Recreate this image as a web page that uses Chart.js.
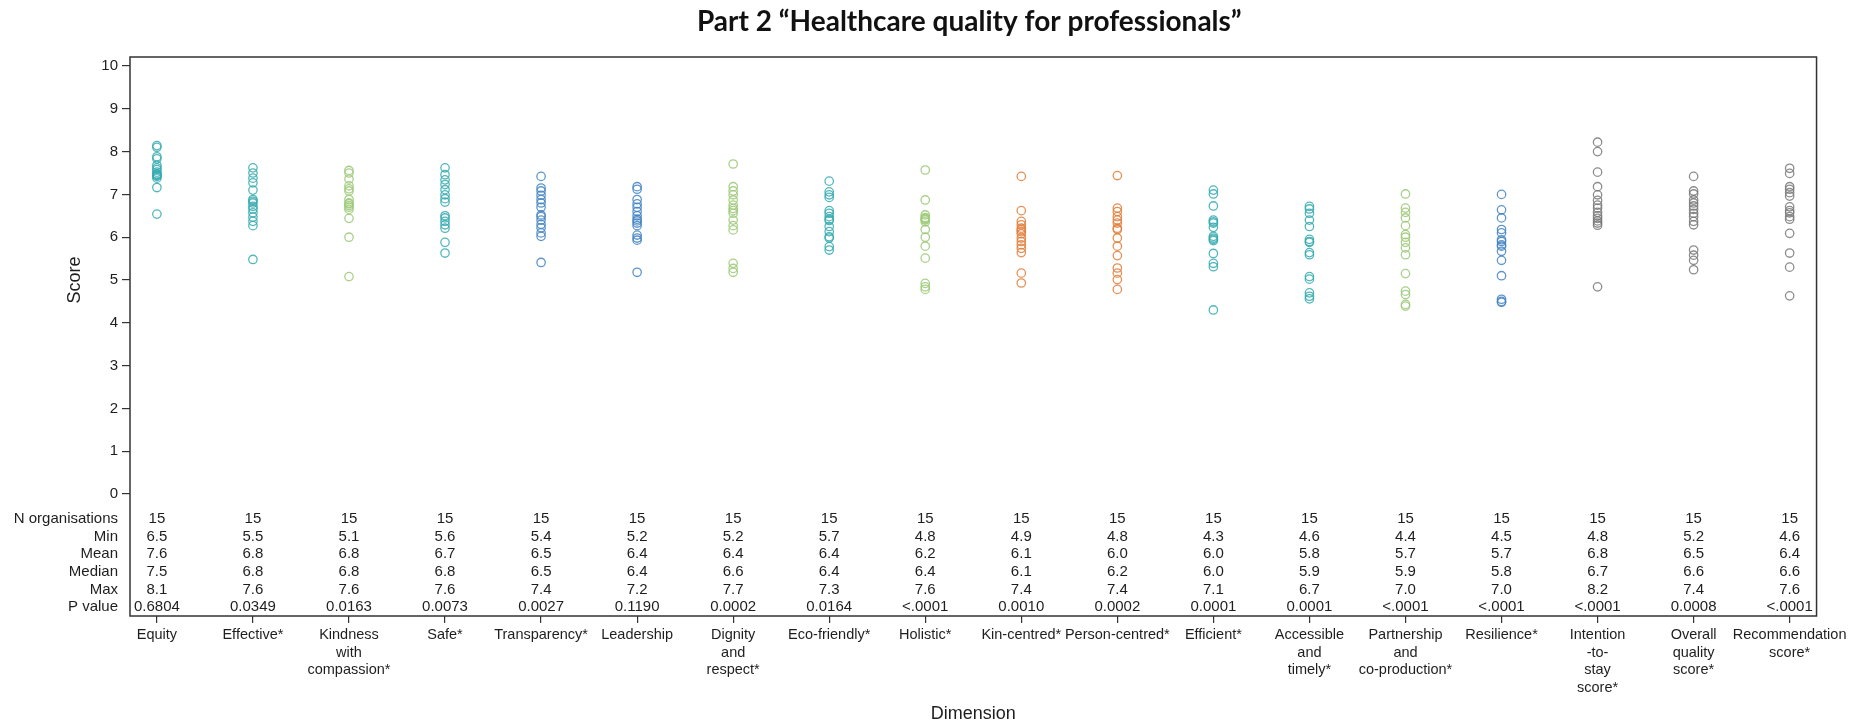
<!DOCTYPE html>
<html>
<head>
<meta charset="utf-8">
<title>Healthcare quality for professionals</title>
<script src="https://cdn.jsdelivr.net/npm/chart.js@4.4.0/dist/chart.umd.min.js"></script>
<style>
  body { margin: 0; background: #fff; }
  #wrap { width: 1850px; height: 723px; position: relative; }
</style>
</head>
<body>
<div id="wrap"><canvas id="chart"></canvas></div>
<script>
// **Data

// x axis labels, one column per dimension
let dimensionLabels = [
  'Equity', 'Effective*', ['Kindness', 'with', 'compassion*'], 'Safe*', 'Transparency*',
  'Leadership', ['Dignity', 'and', 'respect*'], 'Eco-friendly*', 'Holistic*', 'Kin-centred*',
  'Person-centred*', 'Efficient*', ['Accessible', 'and', 'timely*'],
  ['Partnership', 'and', 'co-production*'], 'Resilience*', ['Intention', '-to-', 'stay', 'score*'],
  ['Overall', 'quality', 'score*'], ['Recommendation', 'score*']
];

// organisation scores per dimension (15 organisations each)
let equity = [8.14, 8.1, 7.88, 7.83, 7.68, 7.62, 7.58, 7.52, 7.48, 7.46, 7.44, 7.42, 7.38, 7.16, 6.54];
let effective = [7.62, 7.5, 7.38, 7.27, 7.1, 6.88, 6.84, 6.8, 6.72, 6.66, 6.57, 6.47, 6.37, 6.27, 5.48];
let kindness = [7.56, 7.5, 7.36, 7.2, 7.13, 7.08, 6.88, 6.8, 6.78, 6.74, 6.7, 6.65, 6.44, 6.0, 5.08];
let safe = [7.62, 7.46, 7.34, 7.23, 7.11, 6.99, 6.9, 6.82, 6.5, 6.45, 6.37, 6.29, 6.21, 5.88, 5.63];
let transparency = [7.42, 7.15, 7.08, 6.98, 6.88, 6.8, 6.7, 6.52, 6.48, 6.4, 6.3, 6.22, 6.1, 6.02, 5.41];
let leadership = [7.18, 7.12, 6.88, 6.78, 6.7, 6.6, 6.5, 6.42, 6.38, 6.33, 6.27, 6.05, 5.98, 5.93, 5.18];
let dignity = [7.71, 7.18, 7.08, 6.99, 6.87, 6.75, 6.67, 6.62, 6.56, 6.4, 6.27, 6.17, 5.39, 5.27, 5.18];
let ecoFriendly = [7.31, 7.06, 6.99, 6.93, 6.62, 6.56, 6.48, 6.42, 6.39, 6.25, 6.13, 6.01, 5.98, 5.78, 5.7];
let holistic = [7.57, 6.87, 6.52, 6.46, 6.44, 6.42, 6.4, 6.36, 6.18, 6.0, 5.79, 5.51, 4.92, 4.84, 4.78];
let kinCentred = [7.42, 6.62, 6.37, 6.29, 6.21, 6.17, 6.13, 6.08, 5.98, 5.9, 5.82, 5.74, 5.64, 5.16, 4.93];
let personCentred = [7.44, 6.68, 6.6, 6.48, 6.4, 6.33, 6.21, 6.18, 5.98, 5.79, 5.57, 5.28, 5.16, 5.01, 4.78];
let efficient = [7.1, 7.01, 6.73, 6.4, 6.36, 6.33, 6.23, 6.02, 5.98, 5.95, 5.92, 5.62, 5.39, 5.31, 4.3];
let accessible = [6.72, 6.66, 6.56, 6.4, 6.25, 5.95, 5.9, 5.88, 5.64, 5.59, 5.08, 5.02, 4.7, 4.62, 4.56];
let partnership = [7.01, 6.68, 6.58, 6.45, 6.27, 6.06, 6.0, 5.88, 5.75, 5.59, 5.15, 4.74, 4.66, 4.43, 4.39];
let resilience = [7.0, 6.64, 6.45, 6.18, 6.1, 5.94, 5.9, 5.82, 5.79, 5.67, 5.46, 5.1, 4.55, 4.5, 4.48];
let intention = [8.22, 8.0, 7.52, 7.18, 6.99, 6.86, 6.75, 6.68, 6.58, 6.5, 6.44, 6.38, 6.33, 6.28, 4.84];
let overallQuality = [7.42, 7.08, 7.01, 6.87, 6.8, 6.73, 6.65, 6.56, 6.48, 6.37, 6.29, 5.7, 5.58, 5.46, 5.24];
let recommendation = [7.61, 7.49, 7.18, 7.12, 7.04, 6.96, 6.71, 6.62, 6.57, 6.48, 6.42, 6.09, 5.63, 5.3, 4.63];

let scoreSets = [equity, effective, kindness, safe, transparency, leadership, dignity, ecoFriendly,
  holistic, kinCentred, personCentred, efficient, accessible, partnership, resilience,
  intention, overallQuality, recommendation];

// summary table under the points
let tableRowNames = ['N organisations', 'Min', 'Mean', 'Median', 'Max', 'P value'];
let nOrganisations = ['15', '15', '15', '15', '15', '15', '15', '15', '15', '15', '15', '15', '15', '15', '15', '15', '15', '15'];
let minValues = ['6.5', '5.5', '5.1', '5.6', '5.4', '5.2', '5.2', '5.7', '4.8', '4.9', '4.8', '4.3', '4.6', '4.4', '4.5', '4.8', '5.2', '4.6'];
let meanValues = ['7.6', '6.8', '6.8', '6.7', '6.5', '6.4', '6.4', '6.4', '6.2', '6.1', '6.0', '6.0', '5.8', '5.7', '5.7', '6.8', '6.5', '6.4'];
let medianValues = ['7.5', '6.8', '6.8', '6.8', '6.5', '6.4', '6.6', '6.4', '6.4', '6.1', '6.2', '6.0', '5.9', '5.9', '5.8', '6.7', '6.6', '6.6'];
let maxValues = ['8.1', '7.6', '7.6', '7.6', '7.4', '7.2', '7.7', '7.3', '7.6', '7.4', '7.4', '7.1', '6.7', '7.0', '7.0', '8.2', '7.4', '7.6'];
let pValues = ['0.6804', '0.0349', '0.0163', '0.0073', '0.0027', '0.1190', '0.0002', '0.0164', '<.0001', '0.0010', '0.0002', '0.0001', '0.0001', '<.0001', '<.0001', '<.0001', '0.0008', '<.0001'];

let yTicks = [0, 1, 2, 3, 4, 5, 6, 7, 8, 9, 10];

// colour groups
let teal = 'rgba(52, 170, 176, 0.85)';
let green = 'rgba(160, 203, 124, 0.9)';
let blue = 'rgba(66, 132, 194, 0.85)';
let orange = 'rgba(226, 124, 56, 0.85)';
let grey = 'rgba(120, 120, 120, 0.85)';
let dimensionColors = [teal, teal, green, teal, blue, blue, green, teal, green, orange,
  orange, teal, teal, green, blue, grey, grey, grey];

let textFont = '"Liberation Sans", Arial, sans-serif';
let textColor = '#1e1e1e';

// **Datasets

let datasets = scoreSets.map((scores, i) => ({
  label: Array.isArray(dimensionLabels[i]) ? dimensionLabels[i].join(' ') : dimensionLabels[i],
  data: scores.map(v => ({ x: i, y: v })),
  borderColor: dimensionColors[i],
  backgroundColor: 'rgba(255,255,255,0)',
  pointRadius: 4.2,
  pointBorderWidth: 1.3,
  pointStyle: 'circle'
}));

// frame, summary table, title and y title
let tablePlugin = {
  id: 'tablePlugin',
  afterDraw(chart) {
    let ctx = chart.ctx;
    let area = chart.chartArea;
    let xScale = chart.scales.x;
    let yScale = chart.scales.y;

    ctx.save();
    ctx.strokeStyle = '#333';
    ctx.lineWidth = 1.5;
    ctx.strokeRect(area.left, area.top, area.right - area.left, area.bottom - area.top);

    ctx.fillStyle = textColor;
    ctx.font = '15px ' + textFont;
    ctx.textBaseline = 'middle';
    let rows = [nOrganisations, minValues, meanValues, medianValues, maxValues, pValues];
    for (let r = 0; r < rows.length; r++) {
      let y = area.bottom - 9 - (rows.length - 1 - r) * 17.6;
      ctx.textAlign = 'right';
      ctx.fillText(tableRowNames[r], area.left - 12, y);
      ctx.textAlign = 'center';
      for (let i = 0; i < rows[r].length; i++) {
        ctx.fillText(rows[r][i], xScale.getPixelForValue(i), y);
      }
    }

    // y axis title, centred on the 0-10 range
    ctx.font = '18px ' + textFont;
    ctx.translate(75, yScale.getPixelForValue(5));
    ctx.rotate(-Math.PI / 2);
    ctx.textAlign = 'center';
    ctx.fillText('Score', 0, 0);
    ctx.restore();

    ctx.save();
    ctx.fillStyle = '#111';
    ctx.font = 'bold 28px Lato, "Liberation Sans", sans-serif';
    ctx.textAlign = 'center';
    ctx.textBaseline = 'middle';
    ctx.fillText('Part 2 \u201cHealthcare quality for professionals\u201d', (area.left + area.right) / 2 - 4, 22);
    ctx.restore();
  }
};

let chart = new Chart(document.getElementById('chart'), {
  type: 'scatter',
  data: { datasets: datasets },
  plugins: [tablePlugin],
  options: {
    responsive: true,
    maintainAspectRatio: false,
    animation: false,
    events: [],
    layout: { padding: { top: 57, right: 33, bottom: 0, left: 0 } },
    plugins: {
      legend: { display: false },
      tooltip: { enabled: false }
    },
    scales: {
      x: {
        type: 'linear',
        min: -0.28,
        max: 17.28,
        afterBuildTicks: (scale) => { scale.ticks = dimensionLabels.map((_, i) => ({ value: i })); },
        afterFit: (scale) => { scale.height = 107; },
        grid: { drawOnChartArea: false, drawTicks: true, tickLength: 7, color: '#333', lineWidth: 1.2 },
        border: { display: false },
        ticks: {
          autoSkip: false,
          maxRotation: 0,
          padding: 3,
          color: textColor,
          font: { family: textFont, size: 14.5, lineHeight: 1.22 },
          callback: (value) => dimensionLabels[value]
        },
        title: {
          display: true,
          text: 'Dimension',
          color: textColor,
          font: { family: textFont, size: 18, lineHeight: 1 },
          padding: { top: 0, bottom: 0 }
        }
      },
      y: {
        min: -2.85,
        max: 10.21,
        afterBuildTicks: (scale) => { scale.ticks = yTicks.map(v => ({ value: v })); },
        afterFit: (scale) => { scale.width = 130; },
        grid: { drawOnChartArea: false, drawTicks: true, tickLength: 8, color: '#333', lineWidth: 1.2 },
        border: { display: false },
        ticks: {
          padding: 4,
          color: textColor,
          font: { family: textFont, size: 15 }
        }
      }
    }
  }
});
</script>
</body>
</html>
